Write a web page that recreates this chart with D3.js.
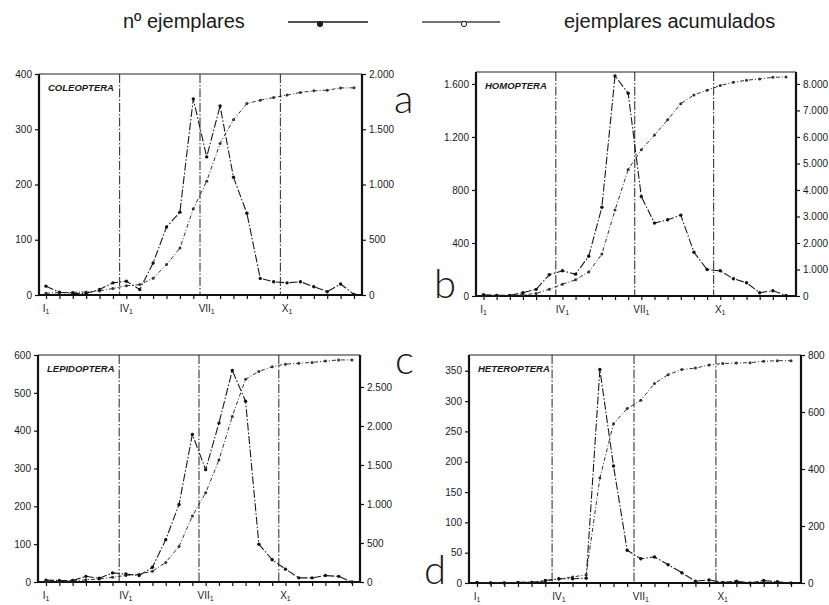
<!DOCTYPE html>
<html lang="es">
<head>
<meta charset="UTF-8">
<title>Ejemplares por quincena</title>
<script src="https://cdn.jsdelivr.net/npm/d3@7"></script>
<style>
  body { margin: 0; background: #fff; }
  svg text { font-family: "Liberation Sans", Arial, Helvetica, sans-serif; fill: #1a1a1a; }
</style>
</head>
<body>
<script>
// quincenas del año
const periods = ["I1","I2","II1","II2","III1","III2","IV1","IV2","V1","V2","VI1","VI2",
                 "VII1","VII2","VIII1","VIII2","IX1","IX2","X1","X2","XI1","XI2","XII1","XII2"];
const tickPeriods = ["I1","IV1","VII1","X1"];
const quarterStarts = ["IV1","VII1","X1"];

// nº ejemplares / ejemplares acumulados
const coleopteraCount = [16,5,3,3,10,22,25,10,58,123,150,355,250,342,213,148,30,24,22,24,15,6,20,1];
const coleopteraCum   = [16,21,24,27,37,59,84,94,152,275,425,780,1030,1372,1585,1733,1763,1787,1809,1833,1848,1854,1874,1875];
const homopteraCount  = [10,5,5,25,50,160,190,165,300,670,1660,1530,750,550,575,610,330,200,190,130,100,25,40,5];
const homopteraCum    = [10,15,20,45,95,255,445,610,910,1580,3240,4770,5520,6070,6645,7255,7585,7760,7940,8060,8140,8190,8250,8265];
const lepidopteraCount = [5,4,4,15,10,24,21,17,39,112,205,390,297,420,559,478,100,59,34,11,11,17,15,0];
const lepidopteraCum   = [5,9,13,28,38,62,83,100,139,251,456,846,1143,1563,2122,2600,2700,2759,2793,2804,2815,2832,2847,2847];
const heteropteraCount = [1,0,0,1,1,4,7,7,8,352,193,54,40,43,30,17,3,5,1,3,0,4,2,0];
const heteropteraCum   = [1,1,1,2,3,7,14,21,29,368,559,612,641,700,731,749,754,765,770,772,773,778,780,780];

// marcas de los ejes
const coleopteraLeftTicks = [0,100,200,300,400];
const coleopteraRightTicks = [0,500,1000,1500,2000];
const homopteraLeftTicks = [0,400,800,1200,1600];
const homopteraRightTicks = [0,1000,2000,3000,4000,5000,6000,7000,8000];
const lepidopteraLeftTicks = [0,100,200,300,400,500,600];
const lepidopteraRightTicks = [0,500,1000,1500,2000,2500];
const heteropteraLeftTicks = [0,50,100,150,200,250,300,350];
const heteropteraRightTicks = [0,200,400,600,800];

const panels = [
  { name: "COLEOPTERA", letter: "a", count: coleopteraCount, cum: coleopteraCum,
    leftTicks: coleopteraLeftTicks, rightTicks: coleopteraRightTicks, leftMax: 400, rightMax: 2000 },
  { name: "HOMOPTERA", letter: "b", count: homopteraCount, cum: homopteraCum,
    leftTicks: homopteraLeftTicks, rightTicks: homopteraRightTicks, leftMax: 1690, rightMax: 8450 },
  { name: "LEPIDOPTERA", letter: "c", count: lepidopteraCount, cum: lepidopteraCum,
    leftTicks: lepidopteraLeftTicks, rightTicks: lepidopteraRightTicks, leftMax: 600, rightMax: 2910 },
  { name: "HETEROPTERA", letter: "d", count: heteropteraCount, cum: heteropteraCum,
    leftTicks: heteropteraLeftTicks, rightTicks: heteropteraRightTicks, leftMax: 376, rightMax: 800 }
];

// posición de cada panel
const layout = [
  { left: 39,  right: 362, top: 74,  bottom: 295, x0: 46,    x1: 354, lx: 394, ly: 113 },
  { left: 476, right: 796, top: 72,  bottom: 296, x0: 483.5, x1: 786, lx: 434, ly: 298 },
  { left: 38,  right: 360, top: 355, bottom: 582, x0: 46,    x1: 352, lx: 395, ly: 374 },
  { left: 469, right: 801, top: 355, bottom: 583, x0: 477,   x1: 791, lx: 424, ly: 584 }
];

const W = 829, H = 605;
const fmt = d3.formatLocale({ decimal: ",", thousands: ".", grouping: [3], currency: ["", " €"] }).format(",d");

const svg = d3.select("body").append("svg")
  .attr("width", W).attr("height", H);

// leyenda
const legend = svg.append("g");
legend.append("text").attr("x", 123).attr("y", 28).attr("font-size", 20).text("nº ejemplares");
legend.append("line").attr("x1", 288).attr("x2", 368).attr("y1", 22).attr("y2", 22)
  .attr("stroke", "#1a1a1a").attr("stroke-width", 1.5);
legend.append("circle").attr("cx", 320).attr("cy", 24).attr("r", 3).attr("fill", "#1a1a1a");
legend.append("line").attr("x1", 422).attr("x2", 500).attr("y1", 22).attr("y2", 22)
  .attr("stroke", "#444").attr("stroke-width", 1.5);
legend.append("circle").attr("cx", 464).attr("cy", 24).attr("r", 2.6)
  .attr("fill", "#fff").attr("stroke", "#1a1a1a").attr("stroke-width", 1);
legend.append("text").attr("x", 564).attr("y", 28).attr("font-size", 20).text("ejemplares acumulados");

panels.forEach((p, k) => {
  const L = layout[k];
  const g = svg.append("g");

  const x = d3.scalePoint().domain(periods).range([L.x0, L.x1]);
  const yL = d3.scaleLinear().domain([0, p.leftMax]).range([L.bottom, L.top]);
  const yR = d3.scaleLinear().domain([0, p.rightMax]).range([L.bottom, L.top]);

  // líneas de trimestre
  quarterStarts.forEach(q => {
    const xx = x(q) - x.step() / 2;
    g.append("line")
      .attr("x1", xx).attr("x2", xx).attr("y1", L.top).attr("y2", L.bottom)
      .attr("stroke", "#222").attr("stroke-width", 1)
      .attr("stroke-dasharray", "9,2,1.5,2");
  });

  // ejes
  const axL = g.append("g").attr("transform", `translate(${L.left},0)`)
    .call(d3.axisLeft(yL).tickValues(p.leftTicks).tickFormat(fmt).tickSize(4).tickPadding(3));
  const axR = g.append("g").attr("transform", `translate(${L.right},0)`)
    .call(d3.axisRight(yR).tickValues(p.rightTicks).tickFormat(fmt).tickSize(4).tickPadding(3));
  const axB = g.append("g").attr("transform", `translate(0,${L.bottom})`)
    .call(d3.axisBottom(x).tickValues(periods).tickFormat("").tickSize(4));
  [axL, axR, axB].forEach(a => {
    a.select(".domain").remove();
    a.selectAll("line").attr("stroke", "#111").attr("stroke-width", 1.2);
    a.selectAll("text").attr("font-size", 10).attr("fill", "#1a1a1a").attr("font-family", null);
  });

  // etiquetas I1, IV1 ...
  tickPeriods.forEach(t => {
    const txt = g.append("text").attr("x", x(t)).attr("y", L.bottom + 17)
      .attr("text-anchor", "middle").attr("font-size", 10);
    txt.append("tspan").text(t.slice(0, -1));
    txt.append("tspan").attr("dy", 2).attr("font-size", 7).text(t.slice(-1));
  });

  // marco
  g.append("line").attr("x1", L.left).attr("x2", L.right).attr("y1", L.top).attr("y2", L.top)
    .attr("stroke", "#222").attr("stroke-width", 1.2);
  g.append("line").attr("x1", L.left).attr("x2", L.left).attr("y1", L.top).attr("y2", L.bottom + 1)
    .attr("stroke", "#111").attr("stroke-width", 2.2);
  g.append("line").attr("x1", L.right).attr("x2", L.right).attr("y1", L.top).attr("y2", L.bottom + 1)
    .attr("stroke", "#111").attr("stroke-width", 2.2);
  g.append("line").attr("x1", L.left).attr("x2", L.right).attr("y1", L.bottom).attr("y2", L.bottom)
    .attr("stroke", "#111").attr("stroke-width", 2.2);

  // series
  const lineL = d3.line().x((d, i) => x(periods[i])).y(d => yL(d));
  const lineR = d3.line().x((d, i) => x(periods[i])).y(d => yR(d));

  g.append("path").datum(p.cum).attr("d", lineR)
    .attr("fill", "none").attr("stroke", "#333").attr("stroke-width", 1)
    .attr("stroke-dasharray", "4,2,1,2");
  g.append("path").datum(p.count).attr("d", lineL)
    .attr("fill", "none").attr("stroke", "#1a1a1a").attr("stroke-width", 1.1)
    .attr("stroke-dasharray", "8,2,1.5,2");

  g.selectAll(".pc").data(p.cum).join("circle")
    .attr("cx", (d, i) => x(periods[i])).attr("cy", d => yR(d))
    .attr("r", 1.5).attr("fill", "#333");
  g.selectAll(".pn").data(p.count).join("circle")
    .attr("cx", (d, i) => x(periods[i])).attr("cy", d => yL(d))
    .attr("r", 1.7).attr("fill", "#111");

  // título y letra
  g.append("text").attr("x", L.left + 9).attr("y", L.top + 17)
    .attr("font-size", 9.5).attr("font-weight", "bold").attr("font-style", "italic")
    .text(p.name);
  g.append("text").attr("x", L.lx).attr("y", L.ly)
    .attr("font-size", 40).attr("font-weight", 300)
    .style("font-family", "Lato, 'Open Sans', sans-serif")
    .text(p.letter);
});
</script>
</body>
</html>
